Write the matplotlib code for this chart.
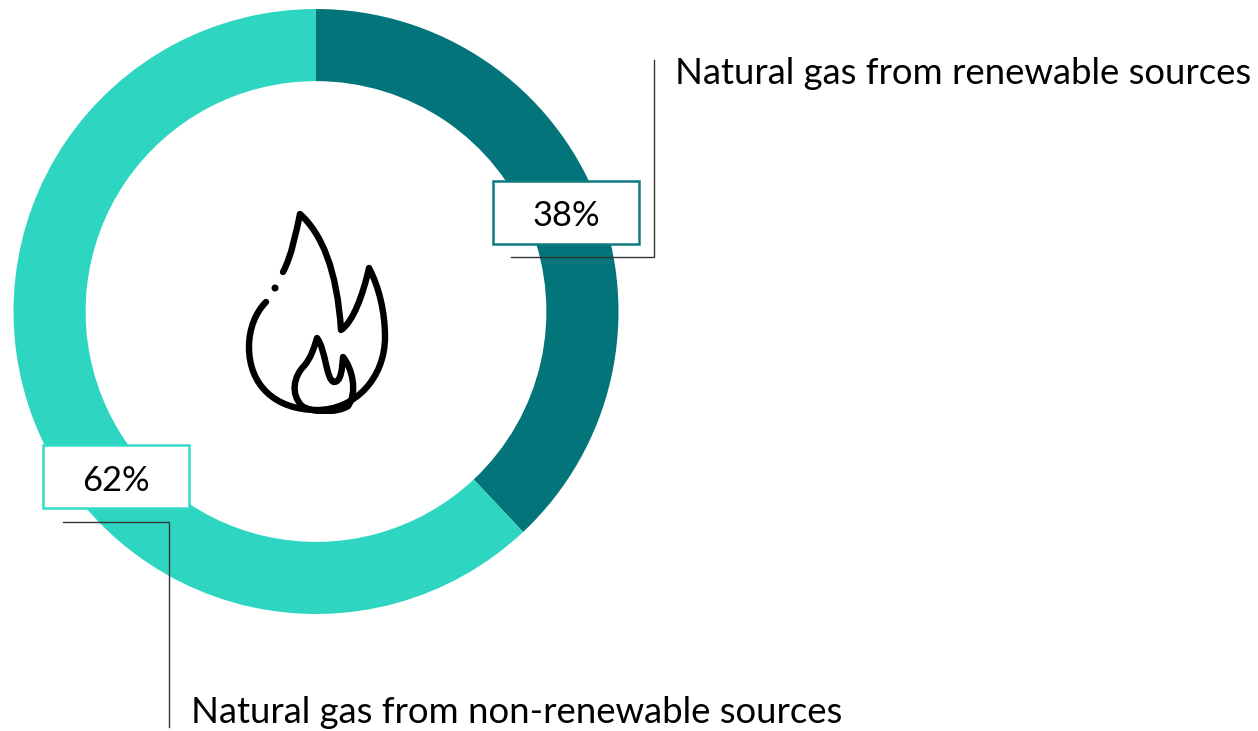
import matplotlib
matplotlib.use('Agg')
import matplotlib.pyplot as plt
from matplotlib.patches import PathPatch, Rectangle, Circle
from matplotlib.path import Path

W, H = 1258, 731

# data
categories = ['Natural gas from renewable sources', 'Natural gas from non-renewable sources']
shares = [38, 62]
share_labels = ['38%', '62%']
colors = ['#03757A', '#2ED6C2']
box_edges = ['#0C7C81', '#34DBC8']

plt.rcParams['font.family'] = ['Lato', 'DejaVu Sans']

fig = plt.figure(figsize=(W / 100, H / 100), dpi=100, facecolor='white')

# donut, centre (316, 312), outer radius 302 px
cx, cy, r = 316, 311.5, 302.5
pie_ax = fig.add_axes([(cx - r) / W, 1 - (cy + r) / H, 2 * r / W, 2 * r / H])
pie_ax.pie(shares, colors=colors, startangle=90, counterclock=False, radius=1,
           wedgeprops={'width': 72 / 302, 'linewidth': 0})
pie_ax.set_xlim(-1, 1)
pie_ax.set_ylim(-1, 1)

# overlay in pixel coordinates
ax = fig.add_axes([0, 0, 1, 1])
ax.set_xlim(0, W)
ax.set_ylim(H, 0)
ax.axis('off')
ax.patch.set_alpha(0)

# leader lines
ax.plot([511, 654, 654], [257, 257, 60], color='#333333', lw=1.0, solid_joinstyle='miter', zorder=2)
ax.plot([63, 169, 169], [521.5, 521.5, 727], color='#333333', lw=1.0, solid_joinstyle='miter', zorder=2)

# label boxes
ax.add_patch(Rectangle((493, 181), 146, 63, fc='white', ec=box_edges[0], lw=1.8, zorder=3))
ax.add_patch(Rectangle((43, 445), 146, 63, fc='white', ec=box_edges[1], lw=1.8, zorder=3))
ax.text(566, 226, share_labels[0], fontsize=24.8, ha='center', va='baseline', color='black', zorder=4)
ax.text(116, 491, share_labels[1], fontsize=24.8, ha='center', va='baseline', color='black', zorder=4)

# category labels
ax.text(675, 84, categories[0], fontsize=26.3, ha='left', va='baseline', color='black')
ax.text(191, 723, categories[1], fontsize=26.3, ha='left', va='baseline', color='black')

# flame icon
M, C = Path.MOVETO, Path.CURVE4
outer = [(283, 272), (292, 255), (296, 232), (300, 214),
         (322, 234), (337, 270), (341, 330),
         (353, 322), (363, 295), (369, 268),
         (379, 287), (385, 312), (385, 337),
         (385, 378), (355, 410), (317, 410),
         (275, 410), (249, 385), (249, 347),
         (249, 328), (256, 312), (266, 302)]
outer_codes = [M] + [C] * 21
inner = [(302, 406), (290, 394), (294, 376), (304, 366),
         (311, 358), (314, 348), (317, 338),
         (326, 350), (326, 380), (334, 382),
         (341, 382), (342, 370), (343, 357),
         (352, 368), (358, 392), (348, 406)]
inner_codes = [M] + [C] * 15
bottom = [(302, 406), (312, 413), (338, 413), (348, 406)]
bottom_codes = [M, C, C, C]
clip = Rectangle((200, 190), 220, 224, transform=ax.transData)
for pts, codes in [(outer, outer_codes), (inner, inner_codes), (bottom, bottom_codes)]:
    flame = PathPatch(Path(pts, codes), fc='none', ec='black', lw=4.6, capstyle='round', joinstyle='round')
    ax.add_patch(flame)
    flame.set_clip_path(clip)
ax.add_patch(Circle((275, 288), 3.5, fc='black', ec='none'))

fig.savefig('out.png', dpi=100, facecolor='white')
